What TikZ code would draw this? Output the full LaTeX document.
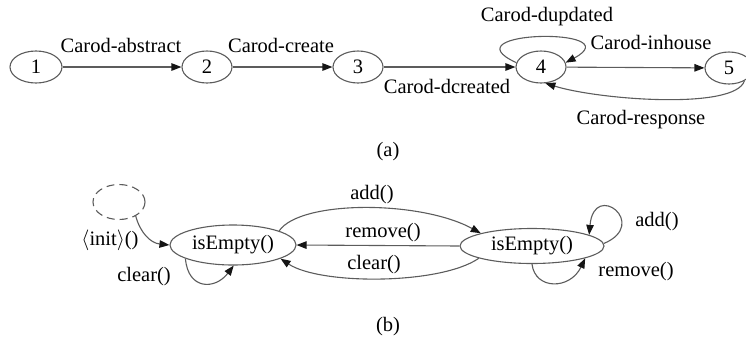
\documentclass[tikz,border=0pt]{standalone}
\usepackage{fontspec}
\setmainfont{Liberation Serif}
\usetikzlibrary{arrows.meta,shapes.geometric}
\definecolor{linegray}{HTML}{5C5C5C}
\definecolor{tipdark}{HTML}{151515}
\begin{document}
\begin{tikzpicture}[x=1pt,y=-1pt,
  every node/.style={font=\fontsize{20.5}{24}\selectfont},
  stnode/.style={ellipse, draw=linegray, line width=1.1pt, inner sep=0pt},
  conn/.style={draw=linegray, line width=1.1pt,
    -{Triangle[length=10pt,width=7.5pt,color=tipdark]}},
  lab/.style={inner sep=0pt}]
\useasboundingbox (0,0) rectangle (746,338);

% ---- (a) event chain ----
\node[stnode, minimum width=52pt, minimum height=32pt] (n1) at (36,67) {1};
\node[stnode, minimum width=50pt, minimum height=32pt] (n2) at (207,67) {2};
\node[stnode, minimum width=50pt, minimum height=32pt] (n3) at (358,67) {3};
\node[stnode, minimum width=50pt, minimum height=32pt] (n4) at (541,67) {4};
\node[stnode, minimum width=48pt, minimum height=32pt] (n5) at (729,68) {5};

\draw[conn] (n1) -- (n2);
\draw[conn] (n2) -- (n3);
\draw[conn] (n3) -- (n4);
\draw[conn] (n4.170) .. controls (445,30) and (632,27) .. (n4.10);
\draw[conn] (n4) -- (n5);
\draw[conn] (n5.-40) .. controls (735,110) and (600,100) .. (n4.-75);

\node[lab] (la1) at (121,45) {Carod-abstract};
\node[lab] (la2) at (281,45) {Carod-create};
\node[lab] (la3) at (447,86) {Carod-dcreated};
\node[lab] (la4) at (547,17) {Carod-dupdated};
\node[lab] (la5) at (651,42) {Carod-inhouse};
\node[lab] (la6) at (641,120) {Carod-response};
\node[lab] (capa) at (388,152) {(a)};

% ---- (b) state machine ----
\node[stnode, dashed, dash pattern=on 8pt off 5pt,
      minimum width=52pt, minimum height=35pt] (init) at (119,202) {};
\node[stnode, minimum width=126pt, minimum height=40pt] (L) at (233,245) {isEmpty()};
\node[stnode, minimum width=144pt, minimum height=35pt] (R) at (532,246) {isEmpty()};

\draw[conn] (init.-40) .. controls (140,232) and (150,243) .. (L.180);
\draw[conn] (L.196) .. controls (188,290) and (215,290) .. (L.-88);
\draw[conn] (L.17) .. controls (300,200) and (420,200) .. (R.166);
\draw[conn] (R.180) -- (L.0);
\draw[conn] (R.193) .. controls (440,285) and (320,285) .. (L.-16);
\draw[conn] (R.2) .. controls (650,224) and (594,180) .. (R.11);
\draw[conn] (R.-90) .. controls (535,290) and (570,290) .. (R.-13);

\node[lab] (lb1) at (110,240) {$\langle$init$\rangle$()};
\node[lab] (lb2) at (144,277) {clear()};
\node[lab] (lb3) at (372,195) {add()};
\node[lab] (lb4) at (383,233) {remove()};
\node[lab] (lb5) at (374,265) {clear()};
\node[lab] (lb6) at (657,222) {add()};
\node[lab] (lb7) at (636,272) {remove()};
\node[lab] (capb) at (388,327) {(b)};
\end{tikzpicture}
\end{document}
